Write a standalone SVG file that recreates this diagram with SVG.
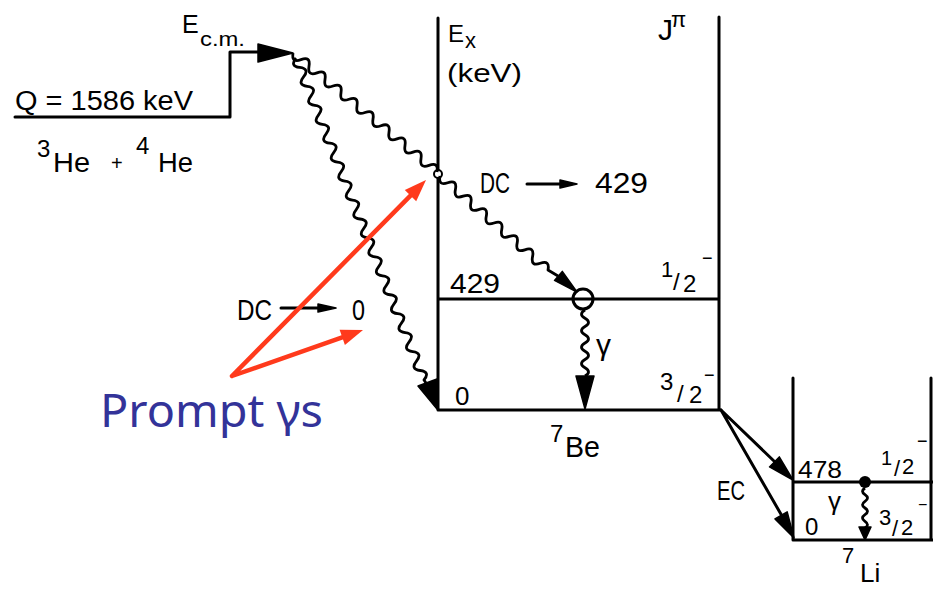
<svg xmlns="http://www.w3.org/2000/svg" width="933" height="590" viewBox="0 0 933 590">
<style>
.ln{stroke:#000;stroke-width:3;fill:none;stroke-linecap:round;stroke-linejoin:round}
.wv{stroke:#000;stroke-width:2.8;fill:none;stroke-linejoin:round}
.hd{fill:#000;stroke:#000;stroke-width:1.5;stroke-linejoin:round}
.t{font-family:"Liberation Sans","DejaVu Sans",Arial,sans-serif;fill:#000}
.red{stroke:#ff3a1c;stroke-width:4.5;fill:none;stroke-linecap:round}
.redh{fill:#ff3a1c}
.blue{font-family:"Noto Sans","DejaVu Sans",sans-serif;fill:#333399}
</style>
<rect width="933" height="590" fill="#fff"/>

<g id="reactants">
  <path class="ln" d="M15,117 H230 V52 H262"/>
  <text class="t" x="15" y="110" font-size="27" textLength="178" lengthAdjust="spacingAndGlyphs">Q = 1586 keV</text>
  <text class="t" x="37" y="157" font-size="24">3</text>
  <text class="t" x="53" y="172" font-size="28" textLength="37" lengthAdjust="spacingAndGlyphs">He</text>
  <text class="t" x="111" y="170" font-size="20">+</text>
  <text class="t" x="136" y="154" font-size="24">4</text>
  <text class="t" x="158" y="172" font-size="28" textLength="35" lengthAdjust="spacingAndGlyphs">He</text>
  <text class="t" x="182" y="33" font-size="25">E</text>
  <text class="t" x="200" y="46" font-size="21" textLength="45" lengthAdjust="spacingAndGlyphs">c.m.</text>
</g>

<g id="be7">
  <path class="ln" d="M438,18 V410 M719,17 V410 M438,299 H719 M438,410 H721"/>
  <text class="t" x="448" y="42" font-size="24">E</text>
  <text class="t" x="465" y="48" font-size="22">x</text>
  <text class="t" x="447" y="82" font-size="26" textLength="75" lengthAdjust="spacingAndGlyphs">(keV)</text>
  <text class="t" x="658" y="40" font-size="30">J</text>
  <text class="t" x="671" y="27" font-size="22">π</text>
  <text class="t" x="450" y="293" font-size="28" textLength="50" lengthAdjust="spacingAndGlyphs">429</text>
  <text class="t" x="455" y="405" font-size="26">0</text>
  <text class="t" x="661" y="277" font-size="22">1</text>
  <text class="t" x="673" y="290" font-size="24">/</text>
  <text class="t" x="683" y="292" font-size="24">2</text>
  <text class="t" x="702" y="264" font-size="18">−</text>
  <text class="t" x="660" y="390" font-size="24">3</text>
  <text class="t" x="677" y="402" font-size="24">/</text>
  <text class="t" x="689" y="403" font-size="24">2</text>
  <text class="t" x="704" y="381" font-size="18">−</text>
  <text class="t" x="550" y="442" font-size="24">7</text>
  <text class="t" x="565" y="457" font-size="30" textLength="35" lengthAdjust="spacingAndGlyphs">Be</text>
  <text class="t" x="596" y="355" font-size="30">γ</text>
  <circle cx="583" cy="299" r="10" fill="none" stroke="#000" stroke-width="3"/>
  <circle cx="438" cy="174" r="4" fill="#fff" stroke="#000" stroke-width="2"/>
</g>

<g id="li7">
  <path class="ln" d="M793,378 V540 M931,378 V540 M793,482 H933 M793,540 H933"/>
  <text class="t" x="798" y="478" font-size="24" textLength="44" lengthAdjust="spacingAndGlyphs">478</text>
  <text class="t" x="805" y="535" font-size="24">0</text>
  <text class="t" x="881" y="465" font-size="20">1</text>
  <text class="t" x="894" y="476" font-size="22">/</text>
  <text class="t" x="902" y="474" font-size="22">2</text>
  <text class="t" x="917" y="447" font-size="18">−</text>
  <text class="t" x="879" y="525" font-size="22">3</text>
  <text class="t" x="892" y="536" font-size="22">/</text>
  <text class="t" x="901" y="535" font-size="22">2</text>
  <text class="t" x="918" y="510" font-size="16">−</text>
  <text class="t" x="828" y="510" font-size="26">γ</text>
  <text class="t" x="842" y="563" font-size="22">7</text>
  <text class="t" x="860" y="582" font-size="26">Li</text>
  <text class="t" x="717" y="500" font-size="28" textLength="28" lengthAdjust="spacingAndGlyphs">EC</text>
  <circle cx="865" cy="482" r="6" fill="#000"/>
</g>

<g id="dc-labels">
  <text class="t" x="480" y="193" font-size="30" textLength="30" lengthAdjust="spacingAndGlyphs">DC</text>
  <text class="t" x="595" y="193" font-size="30" textLength="53" lengthAdjust="spacingAndGlyphs">429</text>
  <text class="t" x="237" y="320" font-size="30" textLength="35" lengthAdjust="spacingAndGlyphs">DC</text>
  <text class="t" x="352" y="320" font-size="30" textLength="13" lengthAdjust="spacingAndGlyphs">0</text>
</g>

<g id="prompt-label">
  <text class="blue" x="100" y="427" font-size="46" textLength="223" lengthAdjust="spacingAndGlyphs">Prompt γs</text>
</g>

<g id="connectors">
  <polygon class="hd" points="258,44 293,53 258,62"/>
  <path class="wv" d="M293,53 q-1.73,10.25 8,6.61 t8,6.61 t8,6.61 t8,6.61 t8,6.61 t8,6.61 t8,6.61 t8,6.61 t8,6.61 t8,6.61 t8,6.61 t8,6.61 t8,6.61 t8,6.61 t8,6.61 t8,6.61 t8,6.61 t8,6.61"/>
  <path class="wv" d="M440,176 q-2.05,10.15 7.714,6.714 t7.714,6.714 t7.714,6.714 t7.714,6.714 t7.714,6.714 t7.714,6.714 t7.714,6.714 t7.714,6.714 t7.714,6.714 t7.714,6.714 t7.714,6.714 t7.714,6.714 t7.714,6.714 t7.714,6.714 L558,276"/>
  <polygon class="hd" points="554.5,280.4 562.3,271.4 577,292"/>
  <path class="wv" d="M296,58 q-6.48,8.06 3.765,9.47 t3.765,9.47 t3.765,9.47 t3.765,9.47 t3.765,9.47 t3.765,9.47 t3.765,9.47 t3.765,9.47 t3.765,9.47 t3.765,9.47 t3.765,9.47 t3.765,9.47 t3.765,9.47 t3.765,9.47 t3.765,9.47 t3.765,9.47 t3.765,9.47 t3.765,9.47 t3.765,9.47 t3.765,9.47 t3.765,9.47 t3.765,9.47 t3.765,9.47 t3.765,9.47 t3.765,9.47 t3.765,9.47 t3.765,9.47 t3.765,9.47 t3.765,9.47 t3.765,9.47 t3.765,9.47 t3.765,9.47 t3.765,9.47 t3.765,9.47 L426,383"/>
  <polygon class="hd" points="418,386 437,379 437,409"/>
  <path class="wv" d="M585,310 q-7,4.125 0,8.25 t0,8.25 t0,8.25 t0,8.25 t0,8.25 t0,8.25 t0,8.25 t0,8.25"/>
  <polygon class="hd" points="576,376 594,376 585,409"/>
  <path class="ln" d="M527,184 H562" stroke-width="2.5"/>
  <polygon class="hd" points="560,180 577,184 560,188"/>
  <path class="ln" d="M281,308 H320" stroke-width="2.5"/>
  <polygon class="hd" points="318,304 336,308 318,312"/>
  <path class="ln" d="M721,410 L775,462 M721,410 L782,516"/>
  <polygon class="hd" points="769.5,466.9 779.3,456.9 793,480"/>
  <polygon class="hd" points="775,518.9 787.2,511.9 794,538"/>
  <path class="wv" d="M865,488 q-5,3.33 0,6.67 t0,6.67 t0,6.67 t0,6.67 t0,6.67 t0,6.67"/>
  <polygon class="hd" points="859,527 871,527 865,540"/>
  <path class="red" d="M232,376 L410.5,195.6 M232,376 L342.2,337.3"/>
  <polygon class="redh" points="416.2,201.2 404.8,190 426,180"/>
  <polygon class="redh" points="344.9,344.9 339.6,329.8 363,330"/>
</g>
</svg>
